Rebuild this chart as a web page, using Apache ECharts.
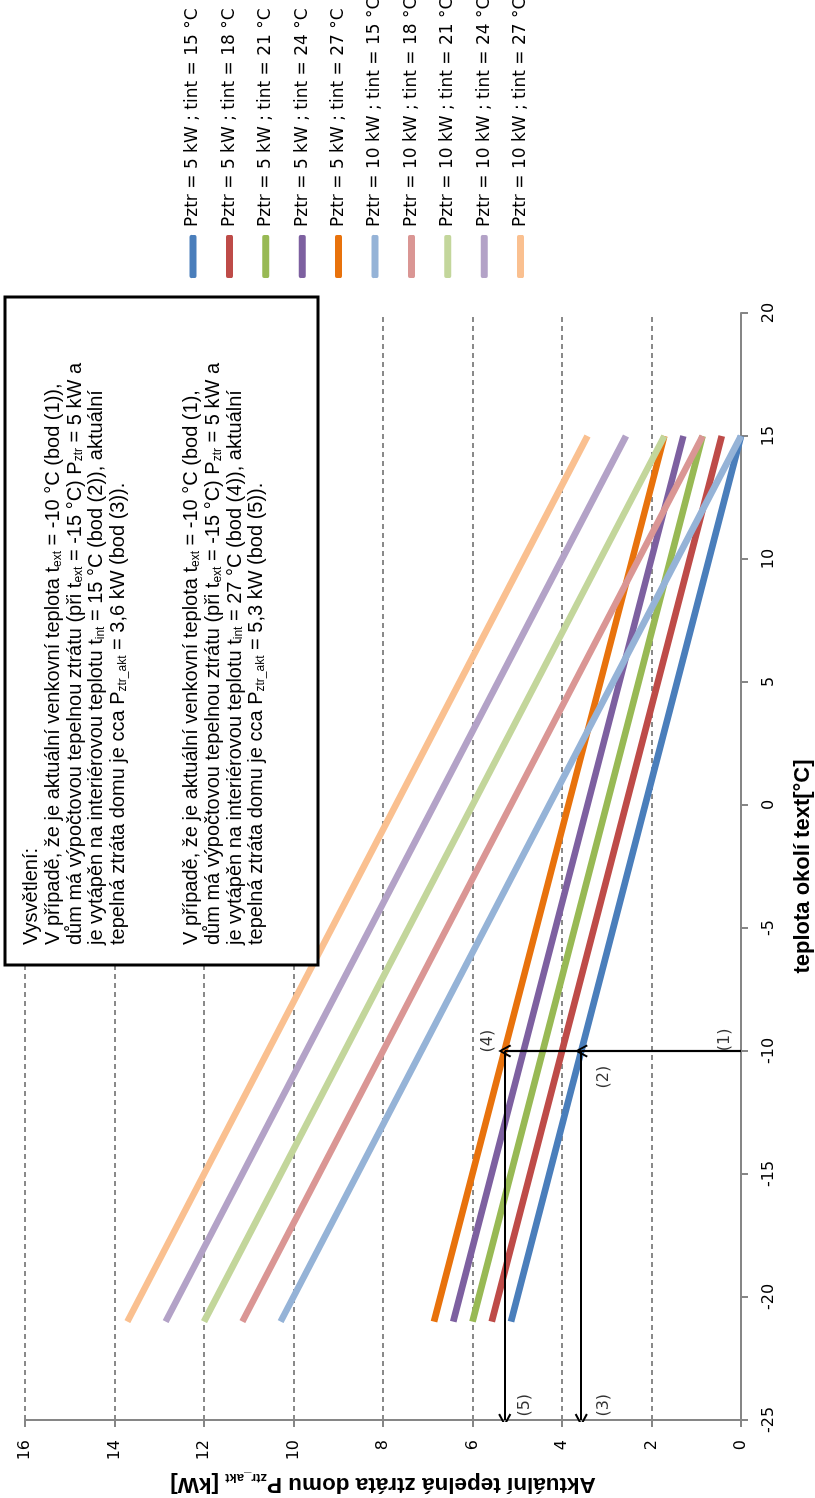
<!DOCTYPE html>
<html>
<head>
<meta charset="utf-8">
<script src="https://cdn.jsdelivr.net/npm/echarts@6/dist/echarts.min.js"></script>
<style>
html,body{margin:0;padding:0;background:#fff;overflow:hidden;width:815px;height:1498px;}
#chart{position:absolute;left:0;top:0;width:1498px;height:815px;transform-origin:0 0;transform:translate(0px,1498px) rotate(-90deg);}
</style>
</head>
<body>
<div id="chart"></div>
<script>
// ---- data ----
const temps = [-21, 15];
const seriesNames = [
  'Pztr = 5 kW ; tint = 15 °C', 'Pztr = 5 kW ; tint = 18 °C', 'Pztr = 5 kW ; tint = 21 °C',
  'Pztr = 5 kW ; tint = 24 °C', 'Pztr = 5 kW ; tint = 27 °C',
  'Pztr = 10 kW ; tint = 15 °C', 'Pztr = 10 kW ; tint = 18 °C', 'Pztr = 10 kW ; tint = 21 °C',
  'Pztr = 10 kW ; tint = 24 °C', 'Pztr = 10 kW ; tint = 27 °C'
];
const kw5_t15 = [5.14, 0.00];
const kw5_t18 = [5.57, 0.43];
const kw5_t21 = [6.00, 0.86];
const kw5_t24 = [6.43, 1.29];
const kw5_t27 = [6.86, 1.71];
const kw10_t15 = [10.29, 0.00];
const kw10_t18 = [11.14, 0.86];
const kw10_t21 = [12.00, 1.71];
const kw10_t24 = [12.86, 2.57];
const kw10_t27 = [13.71, 3.43];
const seriesValues = [kw5_t15, kw5_t18, kw5_t21, kw5_t24, kw5_t27, kw10_t15, kw10_t18, kw10_t21, kw10_t24, kw10_t27];
const colors = ['#4A7EBB', '#BE4B48', '#98B954', '#7D60A0', '#E8720C', '#95B3D7', '#DA9694', '#C3D69B', '#B3A2C7', '#FAC090'];

// arrows (from -> to, data units)
const arrowFrom = [[-10, 0], [-10, 3.57], [-10, 3.57], [-10, 5.28]];
const arrowTo   = [[-10, 3.57], [-10, 5.28], [-25, 3.57], [-25, 5.28]];
// point labels
const annText = ['(1)', '(2)', '(3)', '(4)', '(5)'];
const annX = [-9.55, -11.06, -24.4, -9.6, -24.4];
const annY = [0.36, 3.06, 3.06, 5.65, 4.83];

const xTicks = { min: -25, max: 20, interval: 5 };
const yTicks = { min: 0, max: 16, interval: 2 };

// ---- chart ----
const SANS = "'Liberation Sans', Arial, sans-serif";
const DV = "'DejaVu Sans', sans-serif";
const chart = echarts.init(document.getElementById('chart'), null, { renderer: 'canvas' });

const lineSeries = seriesNames.map((n, i) => ({
  name: n,
  type: 'line',
  data: temps.map((t, j) => [t, seriesValues[i][j]]),
  symbol: 'none',
  showSymbol: false,
  lineStyle: { color: colors[i], width: 6.5 },
  itemStyle: { color: colors[i] },
  z: 2
}));

const boxRich = {
  n: { fontSize: 20, fontFamily: SANS, lineHeight: 21.7, color: '#000' },
  s: { fontSize: 12, fontFamily: SANS, lineHeight: 12, verticalAlign: 'bottom', color: '#000', padding: [0, 0, 1, 0] }
};
const para1 = [
  '{n|Vysvětlení:}',
  '{n|V případě, že je aktuální venkovní teplota t}{s|ext}{n| = -10 °C (bod (1)),}',
  '{n|dům má výpočtovou tepelnou ztrátu (při t}{s|ext}{n| = -15 °C) P}{s|ztr}{n| = 5 kW a}',
  '{n|je vytápěn na interiérovou teplotu t}{s|int}{n| = 15 °C (bod (2)), aktuální}',
  '{n|tepelná ztráta domu je cca P}{s|ztr_akt}{n| = 3,6 kW (bod (3)).}'
].join('\n');
const para2 = [
  '{n|V případě, že je aktuální venkovní teplota t}{s|ext}{n| = -10 °C (bod (1),}',
  '{n|dům má výpočtovou tepelnou ztrátu (při t}{s|ext}{n| = -15 °C) P}{s|ztr}{n| = 5 kW a}',
  '{n|je vytápěn na interiérovou teplotu t}{s|int}{n| = 27 °C (bod (4)), aktuální}',
  '{n|tepelná ztráta domu je cca P}{s|ztr_akt}{n| = 5,3 kW (bod (5)).}'
].join('\n');

const option = {
  animation: false,
  backgroundColor: '#fff',
  grid: { left: 78, right: 313, top: 25, bottom: 74, containLabel: false, outerBoundsMode: 'none' },
  legend: {
    orient: 'vertical',
    left: 1220,
    top: 184.5,
    icon: 'roundRect',
    itemWidth: 43,
    itemHeight: 7,
    itemGap: 19.4,
    padding: 0,
    data: seriesNames,
    textStyle: { fontFamily: DV, fontSize: 17, color: '#000', padding: [0, 0, 0, 3] }
  },
  xAxis: {
    type: 'value',
    min: xTicks.min, max: xTicks.max, interval: xTicks.interval,
    name: 'teplota okolí text[°C]',
    nameLocation: 'middle',
    nameGap: 51,
    nameTextStyle: { fontFamily: SANS, fontWeight: 'bold', fontSize: 22, color: '#000' },
    axisLine: { show: true, onZero: false, lineStyle: { color: '#868686', width: 2 } },
    axisTick: { show: true, inside: false, length: 7, lineStyle: { color: '#868686', width: 2 } },
    axisLabel: { margin: 20, fontFamily: DV, fontSize: 16, color: '#000' },
    splitLine: { show: false }
  },
  yAxis: {
    type: 'value',
    min: yTicks.min, max: yTicks.max, interval: yTicks.interval,
    name: '{b|Aktuální tepelná ztráta domu P}{sub|ztr_akt}{b| [kW]}',
    nameLocation: 'middle',
    nameGap: 49,
    nameTextStyle: {
      fontFamily: SANS, fontWeight: 'bold', fontSize: 22.5, color: '#000',
      rich: {
        b: { fontFamily: SANS, fontWeight: 'bold', fontSize: 22.5, color: '#000', lineHeight: 26 },
        sub: { fontFamily: SANS, fontWeight: 'bold', fontSize: 13, color: '#000', lineHeight: 13, verticalAlign: 'bottom' }
      }
    },
    axisLine: { show: true, onZero: false, lineStyle: { color: '#868686', width: 2 } },
    axisTick: { show: true, inside: false, length: 7, lineStyle: { color: '#868686', width: 2 } },
    axisLabel: { margin: 20, fontFamily: DV, fontSize: 16, color: '#000' },
    splitLine: { show: true, lineStyle: { color: '#8a8a8a', width: 2, type: [5, 4] } }
  },
  series: lineSeries.concat([
    {
      name: 'arrows',
      type: 'lines',
      coordinateSystem: 'cartesian2d',
      polyline: false,
      symbol: ['none', 'path://M5 0 L10 8.6 L8.7 9.4 L5 2.8 L1.3 9.4 L0 8.6 Z'],
      symbolSize: 13,
      lineStyle: { color: '#000', width: 2.2, opacity: 1 },
      itemStyle: { color: '#000' },
      data: arrowFrom.map((f, i) => ({ coords: [f, arrowTo[i]] })),
      z: 5
    },
    {
      name: 'labels',
      type: 'scatter',
      symbolSize: 0,
      data: annText.map((t, i) => ({ name: t, value: [annX[i], annY[i]] })),
      label: { show: true, position: 'inside', formatter: p => p.name, fontFamily: DV, fontSize: 16, color: '#000' },
      z: 6
    }
  ]),
  graphic: [
    {
      type: 'rect',
      z: 10,
      shape: { x: 533, y: 5, width: 668, height: 313 },
      style: { fill: '#fff', stroke: '#000', lineWidth: 3 }
    },
    {
      type: 'text',
      z: 11,
      x: 553, y: 21,
      style: { text: para1, rich: boxRich, fill: '#000', font: "20px 'Liberation Sans', Arial, sans-serif" }
    },
    {
      type: 'text',
      z: 11,
      x: 553, y: 181,
      style: { text: para2, rich: boxRich, fill: '#000', font: "20px 'Liberation Sans', Arial, sans-serif" }
    }
  ]
};
chart.setOption(option);
</script>
</body>
</html>
